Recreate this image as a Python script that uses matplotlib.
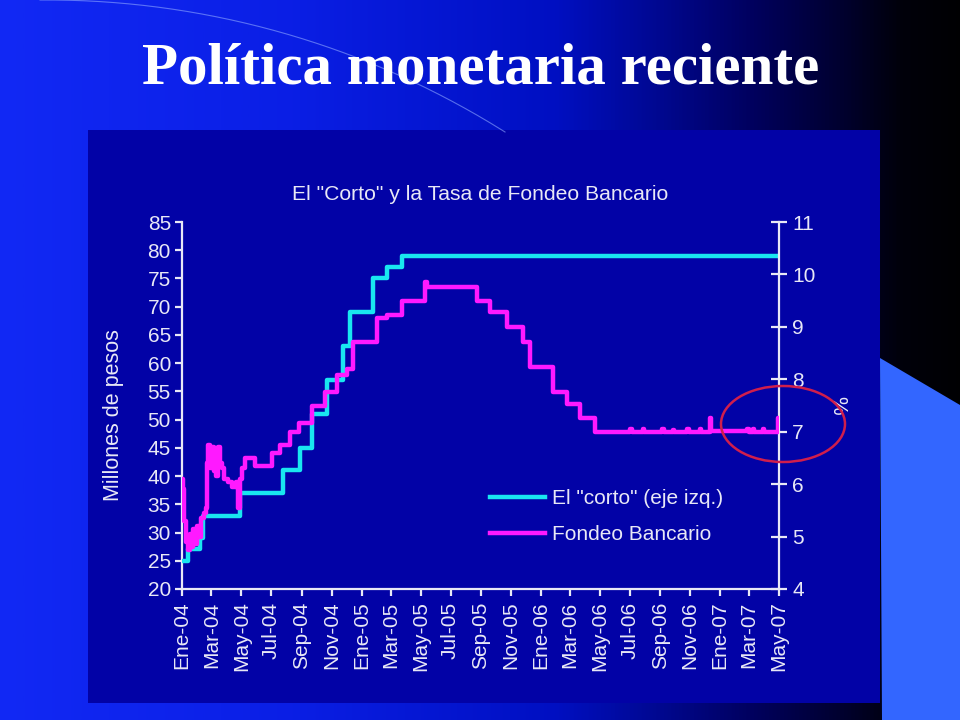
import numpy as np
import matplotlib
matplotlib.use('Agg')
import matplotlib.pyplot as plt
from matplotlib.patches import Rectangle, Polygon, Ellipse
from matplotlib.colors import LinearSegmentedColormap

# ---------------- data ----------------
corto_dates = ['2004-01-01', '2004-01-13', '2004-02-06', '2004-02-12', '2004-04-28',
               '2004-07-25', '2004-08-28', '2004-09-22', '2004-10-22', '2004-11-24',
               '2004-12-08', '2005-01-24', '2005-02-22', '2005-03-24', '2007-05-01']
corto_values = [25, 27, 29, 33, 37, 41, 45, 51, 57, 63, 69, 75, 77, 79, 79]

fondeo_dates = ['2004-01-01', '2004-01-03', '2004-01-05', '2004-01-09', '2004-01-13',
                '2004-01-17', '2004-01-19', '2004-01-23', '2004-01-27', '2004-02-01',
                '2004-02-05', '2004-02-09', '2004-02-15', '2004-02-19', '2004-02-21',
                '2004-02-23', '2004-02-27', '2004-03-02', '2004-03-06', '2004-03-10',
                '2004-03-14', '2004-03-18', '2004-03-22', '2004-03-27', '2004-04-04',
                '2004-04-12', '2004-04-20', '2004-04-24', '2004-04-28', '2004-05-02',
                '2004-05-08', '2004-05-29', '2004-07-02', '2004-07-19', '2004-08-08',
                '2004-08-26', '2004-09-22', '2004-10-18', '2004-11-12', '2004-12-02',
                '2004-12-14', '2005-02-01', '2005-02-22', '2005-03-24', '2005-05-06',
                '2005-05-10', '2005-05-14', '2005-08-24', '2005-09-19', '2005-10-24',
                '2005-11-26', '2005-12-10', '2006-01-26', '2006-02-23', '2006-03-22',
                '2006-04-21', '2006-07-02', '2006-07-05', '2006-07-28', '2006-07-31',
                '2006-09-05', '2006-09-08', '2006-09-27', '2006-09-30', '2006-10-26',
                '2006-10-29', '2006-11-21', '2006-11-24', '2006-12-11', '2006-12-14',
                '2007-02-25', '2007-02-28', '2007-03-09', '2007-03-12', '2007-03-29',
                '2007-04-01', '2007-04-29', '2007-05-01']
fondeo_values = [6.1, 5.9, 5.3, 4.9, 4.75,
                 5.05, 4.8, 5.15, 4.85, 5.2,
                 5.0, 5.35, 5.45, 5.55, 6.4,
                 6.75, 6.3, 6.7, 6.25, 6.15,
                 6.7, 6.4, 6.3, 6.1, 6.05,
                 5.95, 6.05, 5.55, 6.1, 6.3,
                 6.5, 6.35, 6.6, 6.75, 7.0,
                 7.17, 7.5, 7.75, 8.08, 8.2,
                 8.72, 9.17, 9.23, 9.5, 9.5,
                 9.86, 9.76, 9.5, 9.29, 9.0,
                 8.72, 8.24, 7.75, 7.52, 7.27,
                 7.0, 7.05, 7.0, 7.05, 7.0,
                 7.05, 7.0, 7.04, 7.0, 7.05,
                 7.0, 7.05, 7.0, 7.26, 7.02,
                 7.06, 7.0, 7.05, 7.0, 7.06,
                 7.0, 7.26, 7.26]

tick_dates = ['2004-01-01', '2004-03-01', '2004-05-01', '2004-07-01', '2004-09-01',
              '2004-11-01', '2005-01-01', '2005-03-01', '2005-05-01', '2005-07-01',
              '2005-09-01', '2005-11-01', '2006-01-01', '2006-03-01', '2006-05-01',
              '2006-07-01', '2006-09-01', '2006-11-01', '2007-01-01', '2007-03-01',
              '2007-05-01']
tick_labels = ['Ene-04', 'Mar-04', 'May-04', 'Jul-04', 'Sep-04', 'Nov-04',
               'Ene-05', 'Mar-05', 'May-05', 'Jul-05', 'Sep-05', 'Nov-05',
               'Ene-06', 'Mar-06', 'May-06', 'Jul-06', 'Sep-06', 'Nov-06',
               'Ene-07', 'Mar-07', 'May-07']
left_ticks = list(range(20, 90, 5))
right_ticks = list(range(4, 12))

slide_title = 'Política monetaria reciente'
chart_title = 'El "Corto" y la Tasa de Fondeo Bancario'
label_corto = 'El "corto" (eje izq.)'
label_fondeo = 'Fondeo Bancario'

# ---------------- figure ----------------
W, H = 960, 720
fig = plt.figure(figsize=(9.6, 7.2), dpi=100)
FONT = 'Liberation Sans'
TXT = '#e8e8f6'

# background gradient
bg = fig.add_axes([0, 0, 1, 1], zorder=-10)
cmap = LinearSegmentedColormap.from_list('slide', [
    (0.0, (0.07, 0.16, 0.96)),
    (0.3, (0.04, 0.12, 0.90)),
    (0.58, (0.0, 0.06, 0.76)),
    (0.69, (0.0, 0.03, 0.56)),
    (0.79, (0.0, 0.0, 0.36)),
    (0.88, (0.0, 0.0, 0.18)),
    (0.94, (0.0, 0.0, 0.04)),
    (1.0, (0.0, 0.0, 0.01))])
grad = np.linspace(0, 1, 512)[None, :]
bg.imshow(grad, cmap=cmap, aspect='auto', extent=[0, W, H, 0])
# decorative arc
P = np.array([[40, 0], [300, 38], [505, 132]], dtype=float)
A = np.c_[2 * P, np.ones(3)]
b = (P ** 2).sum(axis=1)
cx, cy, c = np.linalg.solve(A, b)
r = np.sqrt(c + cx ** 2 + cy ** 2)
a0 = np.arctan2(P[0, 1] - cy, P[0, 0] - cx)
a1 = np.arctan2(P[2, 1] - cy, P[2, 0] - cx)
tt = np.linspace(a0, a1, 200)
bg.plot(cx + r * np.cos(tt), cy + r * np.sin(tt), color='#8fa8ff', lw=0.8, alpha=0.6)
bg.set_xlim(0, W)
bg.set_ylim(H, 0)
bg.axis('off')
# light blue shape on the right
bg.add_patch(Polygon([[880, 358], [960, 405], [960, 720], [882, 720]],
                     closed=True, color='#3366ff', lw=0))
# chart panel
bg.add_patch(Rectangle((88, 130), 880 - 88, 703 - 130, color='#0202a6', lw=0))

fig.text(481 / W, 1 - 70 / H, slide_title, ha='center', va='center',
         family='Liberation Serif', weight='bold', fontsize=42.5, color='white')

# ---------------- chart ----------------
ax = fig.add_axes([182 / W, 1 - 589 / H, (779 - 182) / W, (589 - 222) / H])
ax.patch.set_visible(False)
ax2 = ax.twinx()
ax2.patch.set_visible(False)

cd = np.array(corto_dates, dtype='datetime64[D]')
fd = np.array(fondeo_dates, dtype='datetime64[D]')
l1, = ax.plot(cd, corto_values, drawstyle='steps-post', color='#19e6f0', lw=3.2,
              label=label_corto, zorder=3)
l2, = ax2.plot(fd, fondeo_values, drawstyle='steps-post', color='#ff19ff', lw=3.2,
               label=label_fondeo, zorder=4)

td = np.array(tick_dates, dtype='datetime64[D]')
ax.set_xlim(td[0], td[-1])
ax.set_ylim(20, 85)
ax2.set_ylim(4, 11)
ax.set_xticks(td)
ax.set_xticklabels(tick_labels, rotation=90, fontsize=15, family=FONT, color=TXT)
ax.set_yticks(left_ticks)
ax.set_yticklabels([str(v) for v in left_ticks], fontsize=15, family=FONT, color=TXT)
ax2.set_yticks(right_ticks)
ax2.set_yticklabels([str(v) for v in right_ticks], fontsize=15, family=FONT, color=TXT)

for a in (ax, ax2):
    for s in a.spines.values():
        s.set_visible(False)
ax.spines['left'].set_visible(True)
ax.spines['bottom'].set_visible(True)
ax2.spines['right'].set_visible(True)
for s in (ax.spines['left'], ax.spines['bottom'], ax2.spines['right']):
    s.set_color(TXT)
    s.set_linewidth(1.6)

ax.tick_params(axis='y', direction='out', length=5, width=1.6, color=TXT, pad=3)
ax.tick_params(axis='x', direction='out', length=5, width=1.6, color=TXT, pad=4)
ax2.tick_params(axis='y', direction='inout', length=11, width=1.6, color=TXT, pad=4)

ax.set_ylabel('Millones de pesos', fontsize=15.5, family=FONT, color=TXT)
ax.yaxis.set_label_coords(-0.097, 0.474)
ax2.set_ylabel('%', fontsize=15, family=FONT, color=TXT, rotation=270, labelpad=23)

fig.text(480 / W, 1 - 195 / H, chart_title, ha='center', va='center',
         fontsize=15.2, family=FONT, color=TXT)

leg = ax2.legend([l1, l2], [label_corto, label_fondeo], loc='center left',
                 bbox_to_anchor=(0.516, 0.197), frameon=False, borderpad=0,
                 borderaxespad=0, handlelength=2.65, handletextpad=0.3,
                 labelspacing=0.8, prop={'family': FONT, 'size': 15})
for t in leg.get_texts():
    t.set_color(TXT)

# highlight ellipse
fig.add_artist(Ellipse((783 / W, 1 - 424 / H), 124 / W, 76 / H, fill=False,
                       edgecolor='#d01e4c', lw=1.8, transform=fig.transFigure, zorder=10))

fig.savefig('out.png', dpi=100)
